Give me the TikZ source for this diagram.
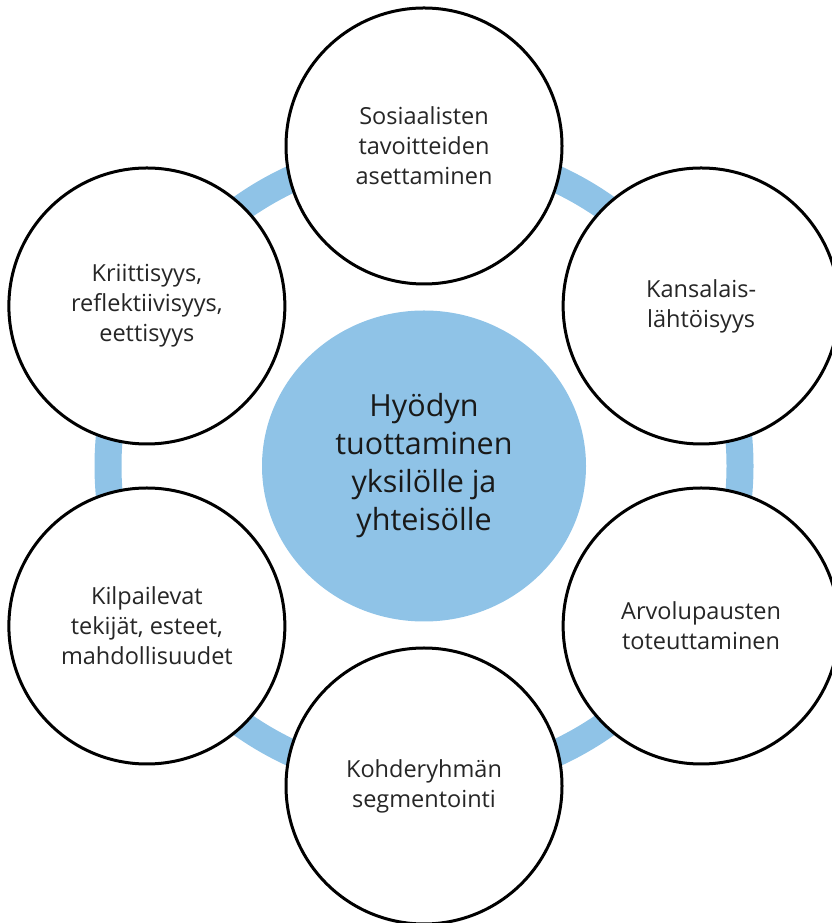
\documentclass[tikz,border=0pt]{standalone}
\usepackage{fontspec}
\setmainfont{Open Sans}
\usetikzlibrary{shapes.geometric}
\definecolor{ringblue}{RGB}{143,195,231}
\begin{document}
\begin{tikzpicture}[x=1pt, y=1pt,
            every node/.style={align=center},
            ring/.style={draw=ringblue, line width=27pt},
            hub/.style={ellipse, fill=ringblue, minimum width=324pt, minimum height=311pt, inner sep=0pt,
                font=\fontsize{30.5}{38}\selectfont, text=black!90},
            leaf/.style={circle, draw, line width=3pt, fill=white, minimum size=276pt, inner sep=0pt,
                font=\fontsize{23.5}{30}\selectfont, text=black!85}]
        \useasboundingbox (0,0) rectangle (831,923);
        \coordinate (mid) at (424,457);
        % blue ring behind the circles
        \draw [ring] (mid) circle (316pt);
        \node [hub] (hub) at (mid) {Hyödyn\\tuottaminen\\yksilölle ja\\yhteisölle};
        \node [leaf] (goals) at ([shift={(90:320)}]mid) {Sosiaalisten\\tavoitteiden\\asettaminen};
        \node [leaf] (citizen) at ([shift={(30:320)}]mid) {Kansalais-\\lähtöisyys};
        \node [leaf] (promise) at ([shift={(-30:320)}]mid) {Arvolupausten\\toteuttaminen};
        \node [leaf] (segment) at ([shift={(-90:320)}]mid) {Kohderyhmän\\segmentointi};
        \node [leaf] (rivals) at ([shift={(210:320)}]mid) {Kilpailevat\\tekijät, esteet,\\mahdollisuudet};
        \node [leaf] (critic) at ([shift={(150:320)}]mid) {Kriittisyys,\\reflektiivisyys,\\eettisyys};
    \end{tikzpicture}
\end{document}
